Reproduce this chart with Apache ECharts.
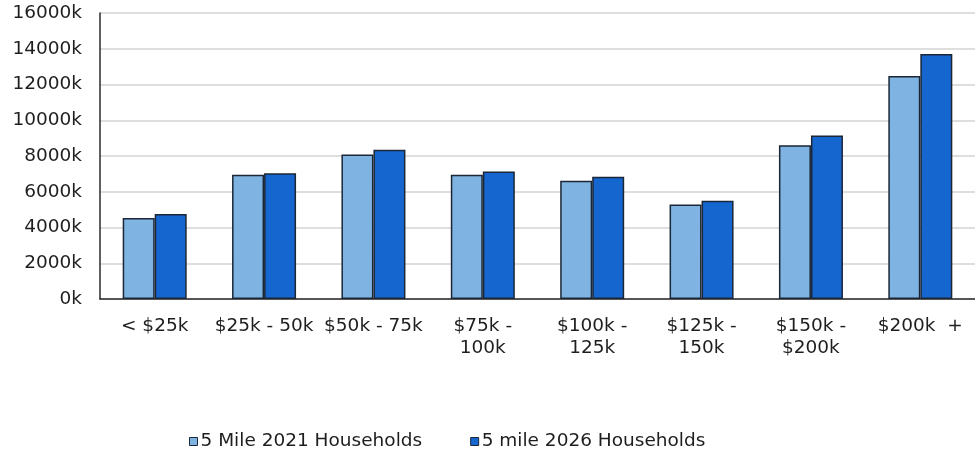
<!DOCTYPE html>
<html>
<head>
<meta charset="utf-8">
<title>Household Income</title>
<script src="https://cdn.jsdelivr.net/npm/echarts@6/dist/echarts.min.js"></script>
<style>
  html, body { margin: 0; padding: 0; background: #ffffff; }
  #chart { width: 975px; height: 454px; }
</style>
</head>
<body>
<div id="chart"></div>
<script>
// Income brackets along the x axis
const categories = [
  '< $25k', '$25k - 50k', '$50k - 75k', '$75k -\n100k',
  '$100k -\n125k', '$125k -\n150k', '$150k -\n$200k', '$200k  +'
];

// Households per bracket, in thousands
const households2021 = [4530, 6950, 8080, 6950, 6620, 5280, 8600, 12470];
const households2026 = [4750, 7040, 8350, 7130, 6840, 5500, 9140, 13710];

const seriesNames = ['5 Mile 2021 Households', '5 mile 2026 Households'];

// Value axis range and step, in thousands
const yMin = 0;
const yMax = 16000;
const yStep = 2000;

const textColor = '#1e1e1e';
const fontFamily = '"DejaVu Sans", Verdana, sans-serif';
const fontSize = 18.5;
const edgeColor = '#1b2636';

const chart = echarts.init(document.getElementById('chart'), null, { renderer: 'canvas' });

chart.setOption({
  animation: false,
  backgroundColor: '#ffffff',
  textStyle: { fontFamily: fontFamily },
  grid: { left: 100, top: 13, width: 880, height: 286 },
  legend: {
    data: seriesNames,
    left: 184,
    top: 427,
    itemWidth: 8,
    itemHeight: 8,
    itemGap: 48,
    icon: 'rect',
    itemStyle: { borderColor: edgeColor, borderWidth: 1 },
    textStyle: {
      fontSize: fontSize,
      color: textColor,
      fontFamily: fontFamily,
      padding: [5, 0, 0, -2]
    }
  },
  xAxis: {
    type: 'category',
    data: categories,
    axisLine: { show: true, lineStyle: { color: '#2a2a2a', width: 1.5 } },
    axisTick: { show: false },
    axisLabel: {
      interval: 0,
      fontSize: fontSize,
      lineHeight: 22,
      margin: 16,
      color: textColor,
      fontFamily: fontFamily
    },
    splitLine: { show: false }
  },
  yAxis: {
    type: 'value',
    min: yMin,
    max: yMax,
    interval: yStep,
    axisLine: { show: true, lineStyle: { color: '#2a2a2a', width: 1.5 } },
    axisTick: { show: false },
    axisLabel: {
      formatter: function (v) { return v + 'k'; },
      fontSize: fontSize,
      margin: 18,
      padding: [4, 0, 0, 0],
      color: textColor,
      fontFamily: fontFamily
    },
    splitLine: { show: true, lineStyle: { color: '#d3d3d3', width: 1.5 } }
  },
  series: [
    {
      name: seriesNames[0],
      type: 'bar',
      data: households2021,
      barWidth: 32,
      barGap: '0%',
      itemStyle: { color: '#7fb3e2', borderColor: edgeColor, borderWidth: 1.5 }
    },
    {
      name: seriesNames[1],
      type: 'bar',
      data: households2026,
      barWidth: 32,
      barGap: '0%',
      itemStyle: { color: '#1666d0', borderColor: edgeColor, borderWidth: 1.5 }
    }
  ]
});
</script>
</body>
</html>
